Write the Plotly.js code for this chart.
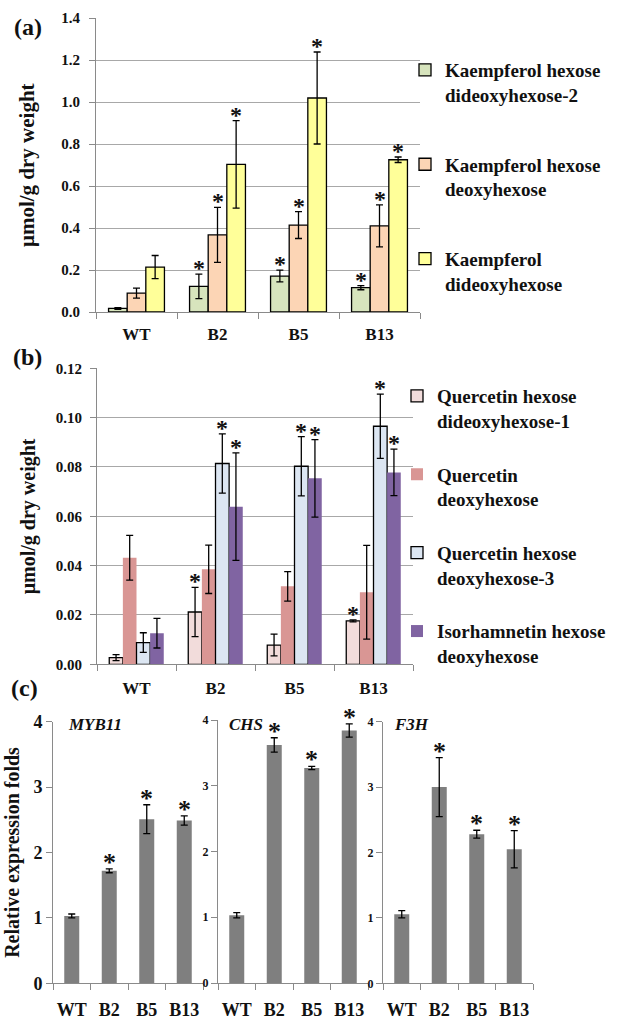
<!DOCTYPE html>
<html><head><meta charset="utf-8">
<script src="https://cdn.plot.ly/plotly-3.0.1.min.js"></script>
<style>html,body{margin:0;padding:0;background:#fff;}#chart{width:632px;height:1020px;}</style>
</head><body><div id="chart"></div>
<script>
// ---------- data ----------
const groups = ['WT', 'B2', 'B5', 'B13'];

// panel (a)  µmol/g dry weight
const aNames = ['Kaempferol hexose<br>dideoxyhexose-2', 'Kaempferol hexose<br>deoxyhexose', 'Kaempferol<br>dideoxyhexose'];
const aKhdd2 = [0.017, 0.122, 0.171, 0.116];
const aKhdd2Err = [0.004, 0.058, 0.028, 0.010];
const aKhd = [0.090, 0.367, 0.414, 0.410];
const aKhdErr = [0.024, 0.131, 0.064, 0.100];
const aKdd = [0.214, 0.703, 1.019, 0.725];
const aKddErr = [0.055, 0.208, 0.219, 0.013];
const aKhdd2Sig = [0, 1, 1, 1];
const aKhdSig = [0, 1, 1, 1];
const aKddSig = [0, 1, 1, 1];

// panel (b)  µmol/g dry weight
const bNames = ['Quercetin hexose<br>dideoxyhexose-1', 'Quercetin<br>deoxyhexose', 'Quercetin hexose<br>deoxyhexose-3', 'Isorhamnetin hexose<br>deoxyhexose'];
const bQhdd1 = [0.0027, 0.0212, 0.0078, 0.0176];
const bQhdd1Err = [0.0012, 0.0100, 0.0044, 0.0004];
const bQd = [0.0432, 0.0385, 0.0316, 0.0292];
const bQdErr = [0.0091, 0.0098, 0.0060, 0.0190];
const bQhd3 = [0.0088, 0.0814, 0.0803, 0.0965];
const bQhd3Err = [0.0040, 0.0120, 0.0120, 0.0130];
const bIhd = [0.0126, 0.0639, 0.0754, 0.0778];
const bIhdErr = [0.0060, 0.0218, 0.0157, 0.0094];
const bQhdd1Sig = [0, 1, 0, 1];
const bQdSig = [0, 0, 0, 0];
const bQhd3Sig = [0, 1, 1, 1];
const bIhdSig = [0, 1, 1, 1];

// panel (c)  relative expression folds
const cGenes = ['MYB11', 'CHS', 'F3H'];
const cMYB11 = [1.03, 1.72, 2.51, 2.49];
const cMYB11Err = [0.03, 0.03, 0.22, 0.07];
const cCHS = [1.03, 3.62, 3.27, 3.84];
const cCHSErr = [0.04, 0.11, 0.025, 0.10];
const cF3H = [1.055, 3.00, 2.28, 2.05];
const cF3HErr = [0.056, 0.45, 0.06, 0.285];
const cSig = [0, 1, 1, 1];

// titles
const concTitle = 'μmol/g dry weight';
const exprTitle = 'Relative expression folds';

// ---------- style ----------
const serif = '"Liberation Serif", "Times New Roman", serif';
const ink = '#111';
const axisGray = '#8a8a8a';
const gridGray = '#a8a8a8';
const BARGAP = 0.31;

function font(size, extra) {
  return Object.assign({family: serif, size: size, color: ink, weight: 'bold'}, extra || {});
}

const traces = [];
const annotations = [];

function addGroupedPanel(series, xa, ya, legendId, starSize, starShift) {
  const n = series.length;
  const slot = (1 - BARGAP) / n;
  series.forEach((s, i) => {
    traces.push({
      type: 'bar', x: groups, y: s.y, name: s.name,
      xaxis: xa, yaxis: ya, legend: legendId, legendgroup: legendId + i,
      marker: {color: s.color, line: {color: '#000', width: s.outline ? 1.3 : 0}},
      error_y: {type: 'data', array: s.err, visible: true, color: '#000', thickness: 1.3, width: 3.5},
      hoverinfo: 'skip'
    });
    const off = -(1 - BARGAP) / 2 + (i + 0.5) * slot;
    groups.forEach((g, k) => {
      if (s.sig[k]) {
        annotations.push({
          xref: xa, yref: ya, x: k + off, y: s.y[k] + s.err[k],
          text: '*', showarrow: false, yanchor: 'bottom', xanchor: 'center',
          yshift: starShift, font: font(starSize)
        });
      }
    });
  });
}

addGroupedPanel([
  {y: aKhdd2, err: aKhdd2Err, sig: aKhdd2Sig, name: aNames[0], color: '#d7e4bd', outline: true},
  {y: aKhd, err: aKhdErr, sig: aKhdSig, name: aNames[1], color: '#fcd5b5', outline: true},
  {y: aKdd, err: aKddErr, sig: aKddSig, name: aNames[2], color: '#ffff99', outline: true}
], 'x', 'y', 'legend', 24, -9);

addGroupedPanel([
  {y: bQhdd1, err: bQhdd1Err, sig: bQhdd1Sig, name: bNames[0], color: '#f2dcdb', outline: true},
  {y: bQd, err: bQdErr, sig: bQdSig, name: bNames[1], color: '#d99694', outline: false},
  {y: bQhd3, err: bQhd3Err, sig: bQhd3Sig, name: bNames[2], color: '#dce6f2', outline: true},
  {y: bIhd, err: bIhdErr, sig: bIhdSig, name: bNames[3], color: '#8064a2', outline: false}
], 'x2', 'y2', 'legend2', 24, -9);

const cData = [[cMYB11, cMYB11Err], [cCHS, cCHSErr], [cF3H, cF3HErr]];
cData.forEach((d, j) => {
  const xa = 'x' + (j + 3), ya = 'y' + (j + 3);
  traces.push({
    type: 'bar', x: groups, y: d[0], name: cGenes[j], showlegend: false,
    xaxis: xa, yaxis: ya, width: 0.4,
    marker: {color: '#7f7f7f', line: {width: 0}},
    error_y: {type: 'data', array: d[1], visible: true, color: '#000', thickness: 1.3, width: 3.5},
    hoverinfo: 'skip'
  });
  groups.forEach((g, k) => {
    if (cSig[k]) {
      annotations.push({
        xref: xa, yref: ya, x: k, y: d[0][k] + d[1][k], text: '*', showarrow: false,
        yanchor: 'bottom', xanchor: 'center', yshift: -10, font: font(26)
      });
    }
  });
});

// panel letters, rotated y titles for (a) and (b), gene names
[['(a)', 0.044, 1 - 27 / 1020], ['(b)', 0.044, 1 - 357 / 1020], ['(c)', 0.038, 1 - 688 / 1020]].forEach(p => {
  annotations.push({xref: 'paper', yref: 'paper', x: p[1], y: p[2], text: p[0], showarrow: false,
    xanchor: 'center', yanchor: 'middle', font: font(24)});
});
[['y domain', 27, 21], ['y2 domain', 28, 20]].forEach(p => {
  annotations.push({xref: 'paper', yref: p[0], x: p[1] / 632, y: 0.5, text: concTitle, textangle: -90,
    showarrow: false, xanchor: 'center', yanchor: 'middle', font: font(p[2])});
});
[[cGenes[0], 66], [cGenes[1], 227], [cGenes[2], 392]].forEach(p => {
  annotations.push({xref: 'paper', yref: 'paper', x: p[1] / 632, y: 1 - 724 / 1020, text: p[0], showarrow: false,
    xanchor: 'left', yanchor: 'middle', font: font(17, {style: 'italic'})});
});

function xAxis(dom, anchor, tsize, standoff) {
  return {domain: dom, anchor: anchor, type: 'category', tickson: 'boundaries', ticks: 'outside', ticklen: 6,
    tickcolor: axisGray, showline: true, linecolor: axisGray, linewidth: 1, showgrid: false, zeroline: false,
    tickangle: 0, ticklabelstandoff: standoff, tickfont: font(tsize), fixedrange: true};
}
function yAxis(dom, anchor, opts) {
  return Object.assign({domain: dom, anchor: anchor, ticks: 'outside', ticklen: 6, tickcolor: axisGray,
    showline: true, linecolor: axisGray, linewidth: 1, zeroline: false, fixedrange: true}, opts);
}

const layout = {
  width: 632, height: 1020, margin: {l: 0, r: 0, t: 0, b: 0},
  paper_bgcolor: '#fff', plot_bgcolor: '#fff',
  barmode: 'group', bargap: BARGAP, bargroupgap: 0,
  showlegend: true,
  xaxis: xAxis([96 / 632, 420 / 632], 'y', 17, 7),
  yaxis: yAxis([1 - 312 / 1020, 1 - 18 / 1020], 'x', {range: [0, 1.4], dtick: 0.2, tickformat: '.1f',
    showgrid: true, gridcolor: gridGray, gridwidth: 1, tickfont: font(15), ticklabelstandoff: 6}),
  xaxis2: xAxis([97 / 632, 413 / 632], 'y2', 17, 8),
  yaxis2: yAxis([1 - 664.3 / 1020, 1 - 368.3 / 1020], 'x2', {range: [0, 0.12], dtick: 0.02, tickformat: '.2f',
    showgrid: true, gridcolor: gridGray, gridwidth: 1, tickfont: font(15), ticklabelstandoff: 5}),
  xaxis3: xAxis([53 / 632, 203 / 632], 'y3', 18, 10),
  yaxis3: yAxis([1 - 983.3 / 1020, 1 - 721.7 / 1020], 'x3', {range: [0, 4], dtick: 1, showgrid: false,
    tickfont: font(18), title: {text: exprTitle, font: font(20), standoff: 8}}),
  xaxis4: xAxis([218 / 632, 368 / 632], 'y4', 18, 10),
  yaxis4: yAxis([1 - 983 / 1020, 1 - 720 / 1020], 'x4', {range: [0, 4], dtick: 1, showgrid: false, tickfont: font(12)}),
  xaxis5: xAxis([383 / 632, 533 / 632], 'y5', 18, 10),
  yaxis5: yAxis([1 - 983.3 / 1020, 1 - 721.7 / 1020], 'x5', {range: [0, 4], dtick: 1, showgrid: false, tickfont: font(12)}),
  legend: {x: 405 / 632, y: 1 - 51 / 1020, xanchor: 'left', yanchor: 'top', traceorder: 'grouped',
    tracegroupgap: 42, valign: 'top', bgcolor: 'rgba(0,0,0,0)', font: font(19)},
  legend2: {x: 397 / 632, y: 1 - 377 / 1020, xanchor: 'left', yanchor: 'top', traceorder: 'grouped',
    tracegroupgap: 26, valign: 'top', bgcolor: 'rgba(0,0,0,0)', font: font(19)},
  annotations: annotations
};

Plotly.newPlot('chart', traces, layout, {staticPlot: true, displayModeBar: false});
</script>
</body></html>
